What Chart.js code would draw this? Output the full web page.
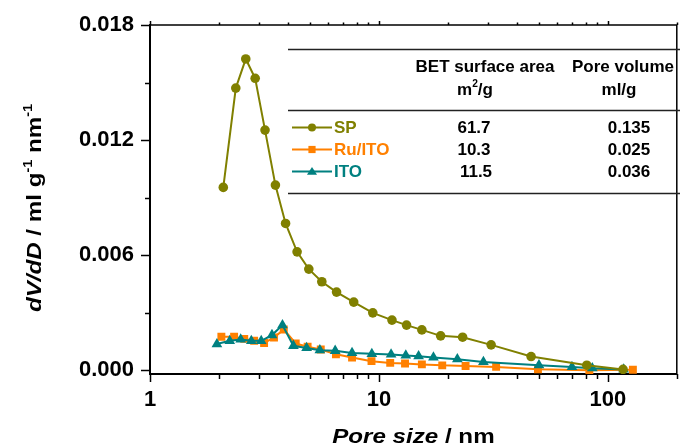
<!DOCTYPE html>
<html>
<head>
<meta charset="utf-8">
<script src="https://cdn.jsdelivr.net/npm/chart.js@4.4.1/dist/chart.umd.min.js"></script>
<style>
  html, body { margin: 0; padding: 0; background: #fff; }
</style>
</head>
<body>
<canvas id="c" width="683" height="448"></canvas>
<script>
// data
const spX = [2.09, 2.37, 2.62, 2.88, 3.18, 3.53, 3.91, 4.39, 4.94, 5.63, 6.53, 7.76, 9.40, 11.4, 13.2, 15.4, 18.6, 23.2, 30.9, 46.2, 80.9, 116.5];
const spY = [0.00953, 0.01471, 0.01623, 0.01522, 0.01252, 0.00965, 0.00765, 0.00617, 0.00527, 0.00461, 0.00407, 0.00355, 0.00299, 0.00261, 0.00235, 0.00210, 0.00179, 0.00172, 0.00132, 0.00071, 0.00026, 0.00004];

const ruX = [2.05, 2.33, 2.58, 2.85, 3.15, 3.48, 3.84, 4.33, 4.88, 5.57, 6.49, 7.63, 9.28, 11.2, 13.0, 15.4, 18.9, 23.9, 32.5, 49.5, 83.0, 128.6];
const ruY = [0.00174, 0.00174, 0.00163, 0.00153, 0.00142, 0.00170, 0.00212, 0.00139, 0.00122, 0.00108, 0.00083, 0.00066, 0.00047, 0.00038, 0.00035, 0.00030, 0.00025, 0.00022, 0.00017, 0.00005, 0.00000, 0.00002];

const itoX = [1.96, 2.23, 2.49, 2.77, 3.06, 3.41, 3.79, 4.23, 4.83, 5.52, 6.44, 7.63, 9.31, 11.3, 13.1, 14.9, 17.3, 22.0, 28.6, 50.0, 69.7, 85.5, 117.2];
const itoY = [0.00136, 0.00153, 0.00160, 0.00153, 0.00153, 0.00183, 0.00235, 0.00127, 0.00116, 0.00104, 0.00101, 0.00090, 0.00085, 0.00082, 0.00077, 0.00073, 0.00066, 0.00057, 0.00043, 0.00026, 0.00017, 0.00010, 0.00004];

// table values
const seriesNames = ['SP', 'Ru/ITO', 'ITO'];
const betArea = ['61.7', '10.3', '11.5'];
const poreVolume = ['0.135', '0.025', '0.036'];

// axis ticks
const xMajor = [1, 10, 100];
const xMinor = [2, 3, 4, 5, 6, 7, 8, 9, 20, 30, 40, 50, 60, 70, 80, 90, 200];
const yMajor = [0, 0.006, 0.012, 0.018];
const yMinor = [0.003, 0.009, 0.015];

const colors = ['#808000', '#FF8000', '#008080'];
const styles = ['circle', 'rect', 'triangle'];
const FONT = '"Liberation Sans", Arial, sans-serif';
const STRETCH = 1.15; // the original lettering is a bit wide

const toPts = (xs, ys) => xs.map((x, i) => ({ x: x, y: ys[i] }));

// markers for the table legend
function marker(ctx, style, x, y, r, color) {
  ctx.fillStyle = color;
  ctx.beginPath();
  if (style === 'circle') {
    ctx.arc(x, y, r, 0, Math.PI * 2);
  } else if (style === 'rect') {
    ctx.rect(x - r, y - r, 2 * r, 2 * r);
  } else {
    ctx.moveTo(x, y - r * 1.1);
    ctx.lineTo(x + r * 1.2, y + r * 0.8);
    ctx.lineTo(x - r * 1.2, y + r * 0.8);
    ctx.closePath();
  }
  ctx.fill();
}

// write text pieces in a row, some italic, some superscript
function pieces(ctx, parts, x, y, size) {
  let cx = x;
  parts.forEach(p => {
    const s = p.sup ? size * 0.6 : size;
    ctx.font = (p.it ? 'italic ' : '') + 'bold ' + s + 'px ' + FONT;
    ctx.fillText(p.t, cx, p.sup ? y - size * 0.45 : y);
    cx += ctx.measureText(p.t).width;
  });
}
function piecesWidth(ctx, parts, size) {
  let w = 0;
  parts.forEach(p => {
    const s = p.sup ? size * 0.6 : size;
    ctx.font = (p.it ? 'italic ' : '') + 'bold ' + s + 'px ' + FONT;
    w += ctx.measureText(p.t).width;
  });
  return w;
}
// centred, horizontally stretched
function title(ctx, parts, cx, cy, size, angle) {
  const w = piecesWidth(ctx, parts, size);
  ctx.save();
  ctx.translate(cx, cy);
  ctx.rotate(angle);
  ctx.scale(STRETCH, 1);
  pieces(ctx, parts, -w / 2, 0, size);
  ctx.restore();
}

const decor = {
  id: 'decor',
  afterDraw(chart) {
    const ctx = chart.ctx;
    const a = chart.chartArea;
    const xs = chart.scales.x, ys = chart.scales.y;
    ctx.save();
    ctx.strokeStyle = '#000';
    ctx.fillStyle = '#000';

    // top and right frame
    ctx.lineWidth = 1.5;
    ctx.beginPath();
    ctx.moveTo(a.left, a.top);
    ctx.lineTo(a.right, a.top);
    ctx.lineTo(a.right, a.bottom);
    ctx.stroke();

    // x ticks (bottom outward, top small)
    ctx.lineWidth = 1.5;
    xMajor.concat(xMinor).forEach(v => {
      const px = Math.round(xs.getPixelForValue(v)) + 0.5;
      const major = xMajor.includes(v);
      ctx.beginPath();
      ctx.moveTo(px, a.bottom);
      ctx.lineTo(px, a.bottom + (major ? 8 : 5));
      ctx.moveTo(px, a.top);
      ctx.lineTo(px, a.top - (major ? 4 : 2.5));
      ctx.stroke();
    });
    // y ticks
    yMajor.concat(yMinor).forEach(v => {
      const py = Math.round(ys.getPixelForValue(v)) + 0.5;
      const major = yMajor.includes(v);
      ctx.beginPath();
      ctx.moveTo(a.left, py);
      ctx.lineTo(a.left - (major ? 9 : 5), py);
      ctx.stroke();
    });

    // axis titles
    ctx.textBaseline = 'alphabetic';
    ctx.textAlign = 'left';
    title(ctx, [{ t: 'Pore size', it: true }, { t: ' / nm' }], (a.left + a.right) / 2, 443, 21, 0);
    title(ctx, [{ t: 'dV/dD', it: true }, { t: ' / ml g' }, { t: '-1', sup: true }, { t: ' nm' }, { t: '-1', sup: true }], 41, 208, 21, -Math.PI / 2);

    // table with legend
    ctx.lineWidth = 1.3;
    ctx.strokeStyle = '#222';
    [49, 110, 193].forEach(y => {
      ctx.beginPath();
      ctx.moveTo(288, y + 0.5);
      ctx.lineTo(680, y + 0.5);
      ctx.stroke();
    });
    ctx.fillStyle = '#000';
    ctx.textAlign = 'center';
    ctx.font = 'bold 17px ' + FONT;
    ctx.fillText('BET surface area', 485, 72);
    ctx.fillText('Pore volume', 623, 72);
    ctx.fillText('ml/g', 619, 95);
    ctx.textAlign = 'left';
    const mparts = [{ t: 'm' }, { t: '2', sup: true }, { t: '/g' }];
    const mw = piecesWidth(ctx, mparts, 17);
    pieces(ctx, mparts, 475 - mw / 2, 95, 17);

    const rowY = [133, 155, 177];
    seriesNames.forEach((name, i) => {
      const y = rowY[i];
      const my = y - 5.5;
      ctx.strokeStyle = colors[i];
      ctx.lineWidth = 2;
      ctx.beginPath();
      ctx.moveTo(292, my);
      ctx.lineTo(332, my);
      ctx.stroke();
      marker(ctx, styles[i], 312, my, i === 0 ? 4 : (i === 1 ? 3.6 : 4.2), colors[i]);
      ctx.font = 'bold 17px ' + FONT;
      ctx.textAlign = 'left';
      ctx.fillStyle = colors[i];
      ctx.fillText(name, 334, y);
      ctx.fillStyle = '#000';
      ctx.textAlign = 'center';
      ctx.fillText(betArea[i], 474 + (i === 2 ? 2 : 0), y);
      ctx.fillText(poreVolume[i], 629, y);
    });
    ctx.restore();
  }
};

function ds(label, xs, ys, i, r) {
  return {
    label: label,
    data: toPts(xs, ys),
    borderColor: colors[i],
    backgroundColor: colors[i],
    pointBackgroundColor: colors[i],
    pointBorderColor: colors[i],
    pointBorderWidth: 0,
    pointStyle: styles[i],
    pointRadius: r,
    borderWidth: 2,
    tension: 0,
    fill: false
  };
}

const spSet = ds('SP', spX, spY, 0, 4.8);
const ruSet = ds('Ru/ITO', ruX, ruY, 1, 5.6);
const itoSet = ds('ITO', itoX, itoY, 2, 6.2);
spSet.order = 0;
itoSet.order = 1;
ruSet.order = 2;

new Chart(document.getElementById('c'), {
  type: 'line',
  data: { datasets: [spSet, ruSet, itoSet] },
  options: {
    responsive: false,
    devicePixelRatio: 1,
    animation: false,
    layout: { padding: { top: 25, right: 1, left: 0, bottom: 0 } },
    plugins: { legend: { display: false }, tooltip: { enabled: false } },
    scales: {
      x: {
        type: 'logarithmic',
        min: 1,
        max: 200,
        afterFit: s => { s.height = 74; },
        afterBuildTicks: s => { s.ticks = xMajor.concat(xMinor).sort((p, q) => p - q).map(v => ({ value: v })); },
        grid: { display: true, drawOnChartArea: false, drawTicks: true, tickLength: 8, color: 'rgba(0,0,0,0)' },
        border: { display: true, color: '#000', width: 2 },
        ticks: {
          autoSkip: false,
          maxRotation: 0,
          padding: 5,
          color: '#000',
          font: { family: FONT, size: 22, weight: 'bold' },
          callback: v => xMajor.includes(v) ? String(v) : ''
        }
      },
      y: {
        min: -0.0002,
        max: 0.018,
        afterFit: s => { s.width = 150; },
        afterBuildTicks: s => { s.ticks = yMajor.map(v => ({ value: v })); },
        grid: { display: true, drawOnChartArea: false, drawTicks: true, tickLength: 9, color: 'rgba(0,0,0,0)' },
        border: { display: true, color: '#000', width: 2 },
        ticks: {
          padding: 7,
          color: '#000',
          font: { family: FONT, size: 22, weight: 'bold' },
          callback: v => v.toFixed(3)
        }
      }
    }
  },
  plugins: [decor]
});
</script>
</body>
</html>
